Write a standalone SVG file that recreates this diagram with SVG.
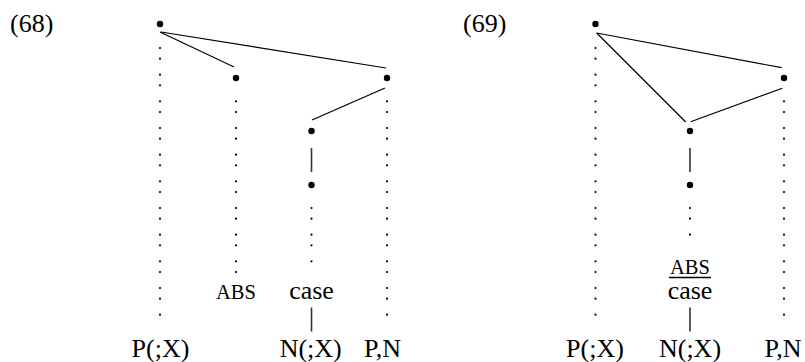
<svg xmlns="http://www.w3.org/2000/svg" width="805" height="362" viewBox="0 0 805 362">
  <style>
    .node { fill: #000; }
    .edge { stroke: #000; stroke-width: 1.2; fill: none; }
    .stem { stroke: #333; stroke-width: 1.6; fill: none; }
    .dots { stroke: #000; stroke-width: 2.2; stroke-linecap: round; stroke-dasharray: 0 10.667 0 16; fill: none; }
    text { font-family: "Liberation Serif", "Times New Roman", serif; fill: #000; }
    .lbl { font-size: 26px; text-anchor: middle; }
    .num { font-size: 26px; }
    .sm { font-size: 20.5px; text-anchor: middle; }
  </style>

  <rect width="805" height="362" fill="#fff"/>

  <!-- (68) -->
  <text class="num" x="10" y="32">(68)</text>

  <g id="connectors-68">
    <line class="edge" x1="160" y1="32" x2="234" y2="67"/>
    <line class="edge" x1="161" y1="32" x2="386" y2="68"/>
    <line class="edge" x1="385" y1="88" x2="312" y2="120"/>
    <line class="stem" x1="311.5" y1="148" x2="311.5" y2="172"/>
    <line class="stem" x1="311.5" y1="307.5" x2="311.5" y2="331.5"/>
    <line class="dots" x1="160" y1="48" x2="160" y2="325.33"/>
    <line class="dots" x1="236" y1="101.33" x2="236" y2="272"/>
    <line class="dots" x1="387" y1="101.33" x2="387" y2="325.33"/>
    <line class="dots" x1="311.5" y1="208" x2="311.5" y2="272"/>
  </g>

  <g id="n68-root"><circle class="node" cx="160" cy="24" r="3.2"/></g>
  <g id="n68-abs"><circle class="node" cx="236" cy="78" r="3.2"/></g>
  <g id="n68-right"><circle class="node" cx="387" cy="78" r="3.2"/></g>
  <g id="n68-mid"><circle class="node" cx="311.5" cy="131" r="3.2"/></g>
  <g id="n68-low"><circle class="node" cx="311.5" cy="185" r="3.2"/></g>

  <g id="l68-abs"><text class="sm" x="236" y="299">ABS</text></g>
  <g id="l68-case"><text class="lbl" x="311.5" y="299">case</text></g>
  <g id="l68-p"><text class="lbl" x="160.5" y="357">P(;X)</text></g>
  <g id="l68-n"><text class="lbl" x="310.7" y="357">N(;X)</text></g>
  <g id="l68-pn"><text class="lbl" x="382.5" y="357">P,N</text></g>

  <!-- (69) -->
  <text class="num" x="463" y="32">(69)</text>

  <g id="connectors-69">
    <line class="edge" x1="596.7" y1="33" x2="781.7" y2="67.7"/>
    <line class="edge" x1="596.7" y1="33" x2="685.7" y2="122"/>
    <line class="edge" x1="782.3" y1="88.3" x2="690.7" y2="121.7"/>
    <line class="stem" x1="690" y1="148" x2="690" y2="172"/>
    <line class="stem" x1="690" y1="307.5" x2="690" y2="331.5"/>
    <line class="dots" x1="595.5" y1="48" x2="595.5" y2="325.33"/>
    <line class="dots" x1="784" y1="101.33" x2="784" y2="325.33"/>
    <line class="dots" x1="690" y1="208" x2="690" y2="245.33"/>
  </g>

  <g id="n69-root"><circle class="node" cx="595.5" cy="24" r="3.2"/></g>
  <g id="n69-right"><circle class="node" cx="784" cy="78" r="3.2"/></g>
  <g id="n69-mid"><circle class="node" cx="690" cy="131" r="3.2"/></g>
  <g id="n69-low"><circle class="node" cx="690" cy="185" r="3.2"/></g>

  <g id="l69-abs">
    <text class="sm" x="690" y="274">ABS</text>
    <line x1="669" y1="277.5" x2="711" y2="277.5" stroke="#000" stroke-width="1.3"/>
  </g>
  <g id="l69-case"><text class="lbl" x="690" y="299">case</text></g>
  <g id="l69-p"><text class="lbl" x="595" y="357">P(;X)</text></g>
  <g id="l69-n"><text class="lbl" x="690" y="357">N(;X)</text></g>
  <g id="l69-pn"><text class="lbl" x="783" y="357">P,N</text></g>
</svg>
